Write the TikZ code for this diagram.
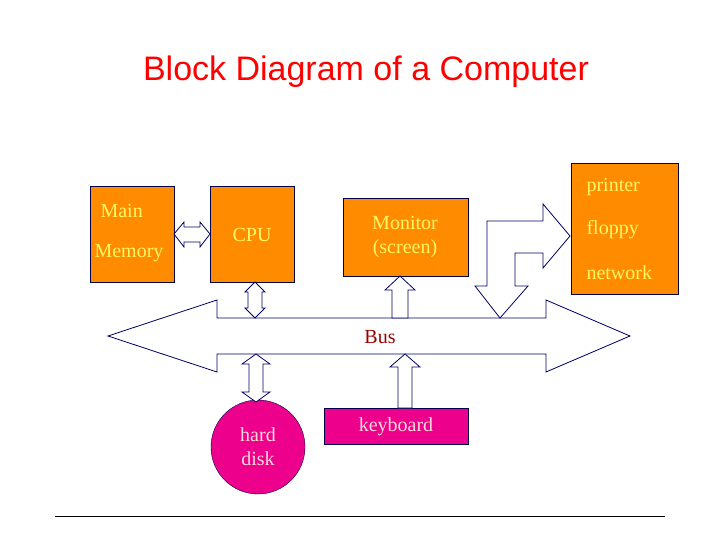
\documentclass[tikz,border=0pt]{standalone}
\usepackage{fontspec}
\setmainfont{Liberation Serif}
\newfontfamily\sans{Liberation Sans}
\begin{document}
\begin{tikzpicture}[x=1pt,y=-1pt,
  box/.style={draw=black!70!blue,fill=orange!90!yellow,inner sep=0pt,anchor=north west},
  mag/.style={draw=black!70!blue,fill=magenta,inner sep=0pt},
  ytxt/.style={text=yellow!60!white,font=\fontsize{20}{24}\selectfont},
  ptxt/.style={text=pink!60!white,font=\fontsize{20}{24}\selectfont},
  blk/.style={draw=blue!40!black,fill=white,line width=0.8pt,line join=miter}]
\useasboundingbox (0,0) rectangle (720,540);
\node[text=red,font=\sans\fontsize{34}{40}\selectfont] (title) at (366,72) {Block Diagram of a Computer};
\node[box,minimum width=84,minimum height=96] (mem) at (90,186) {};
\node[ytxt,anchor=west] (memt1) at (97,211) {Main};
\node[ytxt,anchor=west] (memt2) at (91,253) {Memory};
\node[box,minimum width=84,minimum height=96] (cpu) at (210,186) {};
\node[ytxt] (cput) at (252,235) {CPU};
\node[box,minimum width=125,minimum height=78] (mon) at (343,198) {};
\node[ytxt,align=center] (mont) at (405,237) {Monitor\\(screen)};
\node[box,minimum width=107,minimum height=131] (per) at (571,163) {};
\node[ytxt,anchor=west] (p1) at (583,187) {printer};
\node[ytxt,anchor=west] (p2) at (583,230) {floppy};
\node[ytxt,anchor=west] (p3) at (583,273) {network};
\node[mag,circle,minimum size=94] (hd) at (258,447) {};
\node[ptxt,align=center] (hdt) at (258,447) {hard\\disk};
\node[mag,minimum width=144,minimum height=36] (kb) at (396,426) {};
\node[ptxt] (kbt) at (396,427) {keyboard};
% memory-cpu
\draw[blk] (174,234)--(184,222)--(184,227)--(200,227)--(200,222)--(210,234)--(200,247)--(200,242)--(184,242)--(184,247)--cycle;
% bus
\draw[blk] (108,336)--(217,300)--(217,318)--(546,318)--(546,300)--(630,336)--(546,372)--(546,354)--(217,354)--(217,372)--cycle;
\node[text=red!60!black,font=\fontsize{20}{24}\selectfont] (bus) at (380,337) {Bus};
% cpu-bus
\draw[blk] (255,282)--(265,292)--(262,292)--(262,308)--(265,308)--(255,318)--(245,308)--(248,308)--(248,292)--(245,292)--cycle;
% hd-bus
\draw[blk] (256,354)--(270,364)--(263,364)--(263,392)--(270,392)--(256,402)--(242,392)--(249,392)--(249,364)--(242,364)--cycle;
% monitor up
\draw[blk] (400,276)--(415,290)--(408,290)--(408,318)--(392,318)--(392,290)--(385,290)--cycle;
% keyboard up
\draw[blk] (405,354)--(420,367)--(412,367)--(412,408)--(398,408)--(398,367)--(390,367)--cycle;
% bent arrow
\draw[blk] (500,318)--(528,286)--(515,286)--(515,253)--(543,253)--(543,268)--(570,236)--(543,204)--(543,221)--(487,221)--(487,286)--(475,286)--cycle;
\draw[black] (55,516)--(665,516);
\end{tikzpicture}
\end{document}
